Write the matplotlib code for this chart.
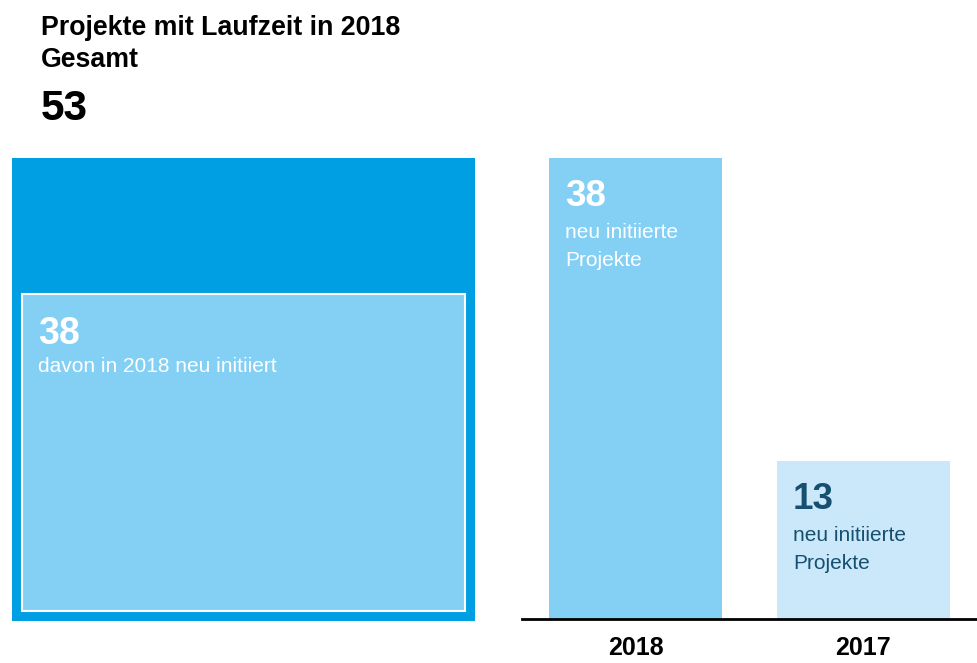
import matplotlib.pyplot as plt
from matplotlib.patches import Rectangle

plt.rcParams["font.family"] = ["Liberation Sans", "DejaVu Sans"]

# Daten
gesamt = 53
neu_2018 = 38
jahre = ["2018", "2017"]
neu_initiiert = [38, 13]

dunkelblau = "#009fe3"
hellblau = "#84d0f5"
sehr_hell = "#cae8fa"
text_dunkel = "#174f70"

fig = plt.figure(figsize=(9.77, 6.63), dpi=100)

# Titel
fig.text(41 / 977, 1 - 35 / 663, "Projekte mit Laufzeit in 2018", fontsize=19.3,
         fontweight="bold", va="baseline")
fig.text(41 / 977, 1 - 67 / 663, "Gesamt", fontsize=19.3, fontweight="bold", va="baseline")
fig.text(41 / 977, 1 - 120 / 663, str(gesamt), fontsize=30.5, fontweight="bold", va="baseline")

# --------------------------------------------------
# Linke Seite: Gesamtflaeche mit Anteil neu initiiert
# --------------------------------------------------
ax1 = fig.add_axes([12 / 977, 42 / 663, 463 / 977, 463 / 663])
ax1.set_xlim(0, gesamt)
ax1.set_ylim(0, gesamt)
ax1.axis("off")
ax1.add_patch(Rectangle((0, 0), gesamt, gesamt, color=dunkelblau, lw=0))
rand = 1.15
ax1.add_patch(Rectangle((rand, rand), gesamt - 2 * rand, neu_2018 - 1.5 * rand,
                        facecolor=hellblau, edgecolor="white", lw=1.5))
oben = rand + neu_2018 - 1.5 * rand
ax1.annotate(str(neu_2018), (rand, oben), xytext=(16, -22), textcoords="offset pixels",
             fontsize=27, fontweight="bold", color="white", va="top")
ax1.annotate("davon in 2018 neu initiiert", (rand, oben), xytext=(16, -78),
             textcoords="offset pixels", fontsize=15, color="white", va="baseline")

# --------------------------------------------------
# Rechte Seite: neu initiierte Projekte pro Jahr
# --------------------------------------------------
ax2 = fig.add_axes([522 / 977, 44 / 663, 455 / 977, 461 / 663])
x = range(len(jahre))
bars = ax2.bar(x, neu_initiiert, width=0.76, color=[hellblau, sehr_hell])
ax2.set_xlim(-0.5, 1.5)
ax2.set_ylim(0, max(neu_initiiert))
for s in ax2.spines.values():
    s.set_visible(False)
ax2.axhline(0, color="black", lw=2, clip_on=False)
ax2.set_yticks([])
ax2.set_xticks(list(x))
ax2.set_xticklabels(jahre, fontsize=18, fontweight="bold")
ax2.tick_params(axis="x", length=0, pad=12)

farben_text = ["white", text_dunkel]
for b, wert, farbe in zip(bars, neu_initiiert, farben_text):
    ecke = (b.get_x(), b.get_height())
    ax2.annotate(str(wert), ecke, xytext=(16, -21), textcoords="offset pixels",
                 fontsize=26.5, fontweight="bold", color=farbe, va="top")
    ax2.annotate("neu initiierte", ecke, xytext=(16, -80), textcoords="offset pixels",
                 fontsize=15, color=farbe, va="baseline")
    ax2.annotate("Projekte", ecke, xytext=(16, -108), textcoords="offset pixels",
                 fontsize=15, color=farbe, va="baseline")

plt.savefig("out.png", dpi=100)
